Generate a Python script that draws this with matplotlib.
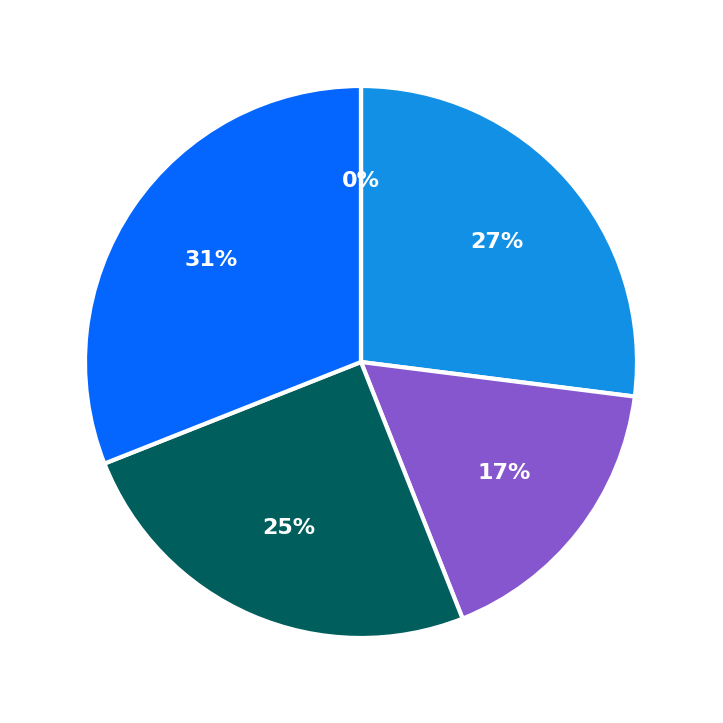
import matplotlib.pyplot as plt

labels = ["A", "B", "C", "D", "E"]
values = [27, 17, 25, 31, 0]
colors = ["#1190E6", "#8556CE", "#005E5C", "#0466FF", "#6E6E6E"]

fig = plt.figure(figsize=(7.23, 7.23), dpi=100)
ax = fig.add_axes([85 / 723, 85 / 723, 552 / 723, 552 / 723])
wedges, texts, autotexts = ax.pie(
    values, colors=colors, startangle=90, counterclock=False,
    autopct="%1.0f%%", pctdistance=0.655,
    wedgeprops=dict(edgecolor="white", linewidth=3),
    textprops=dict(color="white", fontsize=16, fontweight="bold"),
)
ax.set_xlim(-1, 1)
ax.set_ylim(-1, 1)
ax.set_aspect("equal")
fig.savefig("out.png", dpi=100)
